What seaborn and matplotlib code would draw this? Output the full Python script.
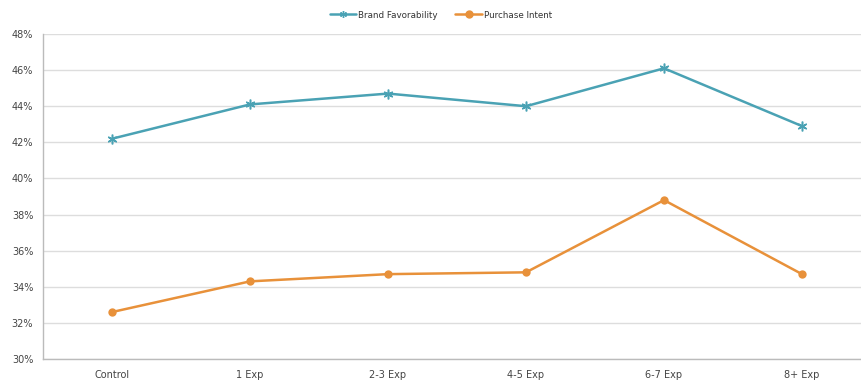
import matplotlib
matplotlib.use("Agg")
import matplotlib.pyplot as plt
from matplotlib.ticker import FixedLocator
from matplotlib.lines import Line2D
import seaborn as sns

categories = ["Control", "1 Exp", "2-3 Exp", "4-5 Exp", "6-7 Exp", "8+ Exp"]
brand_favorability = [42.2, 44.1, 44.7, 44.0, 46.1, 42.9]
purchase_intent = [32.6, 34.3, 34.7, 34.8, 38.8, 34.7]
y_ticks = [30, 32, 34, 36, 38, 40, 42, 44, 46, 48]

sns.set_style("white")
plt.rcParams["font.family"] = ["DejaVu Sans"]

fig = plt.figure(figsize=(8.61, 3.83), dpi=100)
ax = fig.add_axes([43 / 861, 24 / 383, 828 / 861, 325 / 383])

blue = "#4AA2B4"
orange = "#E8913A"
star = (6, 2, 0)

sns.lineplot(x=categories, y=brand_favorability, color=blue, marker=star,
             linewidth=1.8, markersize=7, markeredgewidth=1.1, markeredgecolor=blue,
             sort=False, ax=ax)
sns.lineplot(x=categories, y=purchase_intent, color=orange, marker="o",
             linewidth=1.8, markersize=6, markeredgewidth=0,
             sort=False, ax=ax)

ax.set_xlim(-0.5, 5.5)
ax.set_ylim(30, 48)
ax.set_yticks(y_ticks)
ax.set_yticklabels([f"{t}%" for t in y_ticks])
ax.set_xlabel("")
ax.set_ylabel("")
ax.grid(axis="y", color="#DDDDDD", linewidth=1)
ax.set_axisbelow(True)
for s in ["top", "right"]:
    ax.spines[s].set_visible(False)
for s in ["left", "bottom"]:
    ax.spines[s].set_color("#BBBBBB")
    ax.spines[s].set_linewidth(1)

ax.tick_params(axis="x", length=0, labelsize=7, colors="#444444", pad=8)
ax.xaxis.set_minor_locator(FixedLocator([i + 0.5 for i in range(len(categories) - 1)]))
ax.tick_params(axis="x", which="minor", length=3, color="#BBBBBB", direction="out")
ax.tick_params(axis="y", length=3, color="#BBBBBB", labelsize=7, colors="#444444", pad=4)

handles = [
    Line2D([], [], color=blue, marker=star, linewidth=1.8, markersize=5),
    Line2D([], [], color=orange, marker="o", linewidth=1.8, markersize=5),
]
fig.legend(handles, ["Brand Favorability", "Purchase Intent"], loc="center",
           bbox_to_anchor=(441 / 861, 1 - 15 / 383), ncol=2, frameon=False,
           fontsize=6.3, handlelength=3, columnspacing=2.0, handletextpad=0.3,
           labelcolor="#333333")

fig.savefig("out.png", dpi=100)
